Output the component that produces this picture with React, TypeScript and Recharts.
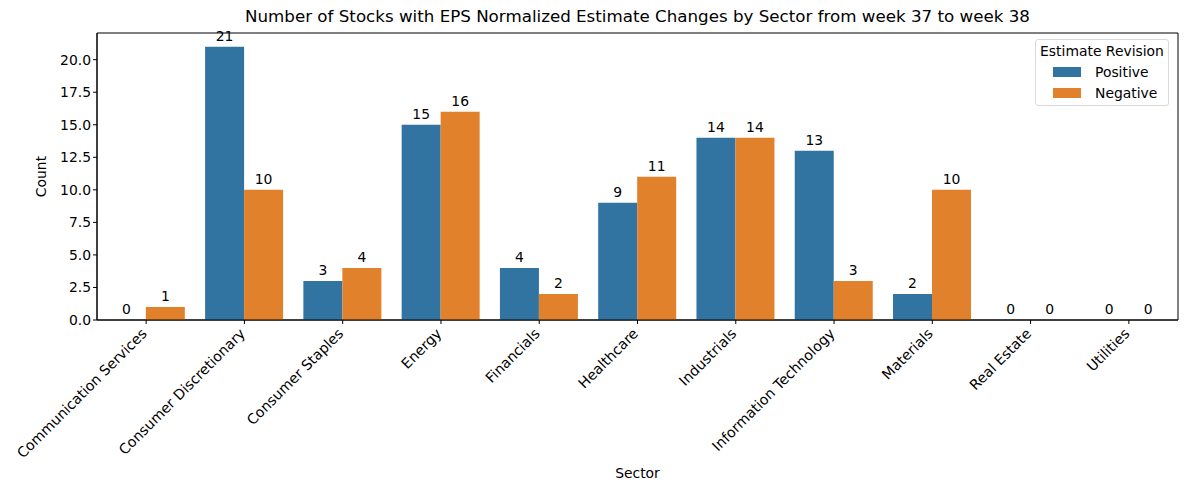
import React from "react";
import {
  BarChart,
  Bar,
  XAxis,
  YAxis,
  LabelList,
  Label,
  ReferenceArea,
} from "recharts";

const sectors = [
  "Communication Services",
  "Consumer Discretionary",
  "Consumer Staples",
  "Energy",
  "Financials",
  "Healthcare",
  "Industrials",
  "Information Technology",
  "Materials",
  "Real Estate",
  "Utilities",
];
const positive = [0, 21, 3, 15, 4, 9, 14, 13, 2, 0, 0];
const negative = [1, 10, 4, 16, 2, 11, 14, 3, 10, 0, 0];
const yTicks = [0, 2.5, 5, 7.5, 10, 12.5, 15, 17.5, 20];

const BLUE = "#3274a1";
const ORANGE = "#e1812c";
const FONT = "DejaVu Sans, sans-serif";

const data = sectors.map((s, i) => ({
  sector: s,
  Positive: positive[i],
  Negative: negative[i],
}));

const XTick = (props: any) => {
  const { x, y, payload } = props;
  return (
    <g transform={`translate(${x - 6},${y + 1})`}>
      <text
        transform="rotate(-45)"
        textAnchor="end"
        dy="0.75em"
        fontSize={14.2}
        fontFamily={FONT}
        fill="#000"
      >
        {payload.value}
      </text>
    </g>
  );
};

const barLabel = (p: any) => (
  <text
    x={p.x + p.width / 2}
    y={p.y - 6}
    textAnchor="middle"
    fontFamily={FONT}
    fontSize={13.9}
    fill="#000"
  >
    {p.value}
  </text>
);

const LegendBox = () => (
  <div
    style={{
      position: "absolute",
      left: 1035,
      top: 39,
      width: 134,
      height: 67,
      border: "1px solid #d9d9d9",
      borderRadius: 3,
      background: "rgba(255,255,255,0.8)",
      fontFamily: FONT,
      fontSize: 13.9,
      color: "#000",
      boxSizing: "border-box",
      paddingTop: 2,
    }}
  >
    <div style={{ textAlign: "center", lineHeight: "19px" }}>Estimate Revision</div>
    {[
      ["Positive", BLUE],
      ["Negative", ORANGE],
    ].map(([name, c]) => (
      <div key={name} style={{ display: "flex", alignItems: "center", height: 21, paddingLeft: 17 }}>
        <span style={{ display: "inline-block", width: 28, height: 10, background: c, marginRight: 14 }} />
        <span>{name}</span>
      </div>
    ))}
  </div>
);

export default function App() {
  return (
    <div style={{ position: "absolute", left: 0, top: 0, width: 1184, height: 486, background: "#fff" }}>
      <div
        style={{
          position: "absolute",
          top: 6,
          left: 97,
          width: 1081,
          textAlign: "center",
          fontFamily: FONT,
          fontSize: 16.7,
        }}
      >
        Number of Stocks with EPS Normalized Estimate Changes by Sector from week 37 to week 38
      </div>
      <BarChart
        width={1184}
        height={486}
        data={data}
        margin={{ top: 33, right: 6, left: 37, bottom: 8 }}
        barCategoryGap="10%"
        barGap={0}
      >
        <XAxis
          dataKey="sector"
          interval={0}
          height={158}
          tick={<XTick />}
          tickLine={{ stroke: "#000" }}
          tickSize={4}
          axisLine={{ stroke: "#000" }}
        >
          <Label
            value="Sector"
            position="insideBottom"
            offset={0}
            style={{ fontFamily: FONT, fontSize: 13.9, fill: "#000" }}
          />
        </XAxis>
        <YAxis
          domain={[0, 22.05]}
          ticks={yTicks}
          width={60}
          tickFormatter={(v: number) => v.toFixed(1)}
          tick={{ fontFamily: FONT, fontSize: 13.9, fill: "#000" }}
          tickLine={{ stroke: "#000" }}
          tickSize={4}
          axisLine={{ stroke: "#000" }}
        >
          <Label
            value="Count"
            angle={-90}
            position="insideLeft"
            offset={0}
            dx={4}
            style={{ fontFamily: FONT, fontSize: 13.9, fill: "#000", textAnchor: "middle" }}
          />
        </YAxis>
        <ReferenceArea y1={0} y2={22.05} fill="none" stroke="#000" strokeWidth={1} fillOpacity={0} />
        <Bar dataKey="Positive" fill={BLUE} minPointSize={0.01} isAnimationActive={false}>
          <LabelList dataKey="Positive" content={barLabel} />
        </Bar>
        <Bar dataKey="Negative" fill={ORANGE} minPointSize={0.01} isAnimationActive={false}>
          <LabelList dataKey="Negative" content={barLabel} />
        </Bar>
      </BarChart>
      <LegendBox />
    </div>
  );
}
